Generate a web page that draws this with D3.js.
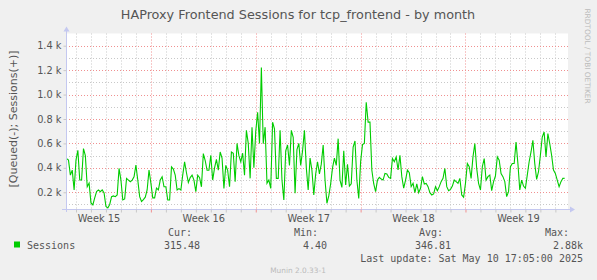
<!DOCTYPE html>
<html lang="en">
<head>
<meta charset="UTF-8">
<title>HAProxy Frontend Sessions</title>
<script src="https://cdn.jsdelivr.net/npm/d3@7"></script>
<style>
  body { margin: 0; background: #f0f0f0; }
  svg { display: block; }
  .sans { font-family: "DejaVu Sans", sans-serif; fill: #555; }
  .mono { font-family: "DejaVu Sans Mono", monospace; fill: #555; }
</style>
</head>
<body>
<script>
// ---- data: Sessions, one sample every 3 hours from Apr 7 09:00 to May 10 15:00 ----
const startTime = Date.UTC(2025, 3, 7, 9, 0);
const stepHours = 3;
const sessions = [
  476, 463, 340, 381, 219, 463, 544, 300, 300, 558,
  500, 245, 275, 113, 97, 154, 205, 219, 205, 219,
  194, 83, 72, 100, 164, 170, 164, 178, 395, 300,
  137, 145, 314, 300, 286, 300, 327, 422, 300, 164,
  124, 140, 160, 219, 381, 275, 154, 154, 235, 220,
  300, 327, 245, 245, 137, 137, 408, 390, 340, 219,
  230, 219, 340, 449, 360, 280, 320, 340, 300, 205,
  340, 320, 245, 517, 460, 380,
  381, 503, 300, 400, 470, 381, 530, 480, 232, 420,
  380, 245, 530, 520, 286, 600, 500, 450, 520, 340,
  707, 600, 314, 733, 400, 700, 855, 600, 1221, 598,
  733, 273, 300, 232, 774, 720, 314, 314, 707, 300,
  137, 540, 587, 420, 707, 650, 192, 550, 600, 420,
  540, 707, 400, 219, 480, 380, 178, 350, 450, 350,
  430, 587, 300, 110, 170, 270, 400, 480, 420, 639,
  300, 240, 540, 260, 430, 250, 270, 570, 620, 300,
  150, 450, 590, 600, 937, 774, 774, 380, 270, 205,
  300,
  322, 308, 300, 354, 349, 322, 314, 476, 450, 490,
  382, 503, 328, 233, 300, 382, 360, 246, 273, 197,
  268, 197, 233, 328, 268, 273, 246, 197, 178, 186,
  246, 213, 246, 287, 314, 395, 246, 213, 224, 251,
  300, 287, 273, 314, 178, 159, 273, 436, 409, 314,
  490, 598, 395, 273, 219, 409, 476, 300, 328, 341,
  213, 287, 333, 490, 463, 354, 328, 287, 164, 205,
  409, 436, 436, 612, 436, 219, 300, 251, 233, 341,
  450, 530, 625, 436, 306, 368, 503, 652, 693, 490,
  680, 598, 503, 382, 354, 300, 246, 287, 314, 315
];

const yTicks = [200, 400, 600, 800, 1000, 1200, 1400];
const yMinor = [100, 300, 500, 700, 900, 1100, 1300];
const weekLabels = ["Week 15", "Week 16", "Week 17", "Week 18", "Week 19"];

const legendHeads = ["Cur:", "Min:", "Avg:", "Max:"];
const legendVals = ["315.48", "4.40", "346.81", "2.88k"];
const lastUpdate = "Last update: Sat May 10 17:05:00 2025";

// ---- layout ----
const W = 597, H = 280;
const plot = { left: 66, right: 568, top: 33.5, bottom: 209 };

const svg = d3.select("body").append("svg")
  .attr("width", W).attr("height", H);

svg.append("rect").attr("width", W).attr("height", H).attr("fill", "#f0f0f0");
svg.append("rect")
  .attr("x", plot.left).attr("y", plot.top)
  .attr("width", plot.right - plot.left).attr("height", plot.bottom - plot.top)
  .attr("fill", "#ffffff");

// scales
const x = d3.scaleUtc()
  .domain([new Date(Date.UTC(2025, 3, 7, 8, 0)), new Date(Date.UTC(2025, 4, 10, 20, 15))])
  .range([plot.left, plot.right]);
const y = d3.scaleLinear().domain([63, 1500]).range([plot.bottom, plot.top]);

const t0 = x.domain()[0], t1 = x.domain()[1];
const days = d3.utcDay.range(d3.utcDay.ceil(t0), t1);
const weeks = d3.utcSunday.range(d3.utcSunday.ceil(t0), t1);

// grid
const grid = svg.append("g");
grid.selectAll(".vmin").data(days.filter(d => d.getUTCDay() !== 0)).enter().append("line")
  .attr("x1", d => Math.round(x(d)) + 0.5).attr("x2", d => Math.round(x(d)) + 0.5)
  .attr("y1", plot.top).attr("y2", plot.bottom)
  .attr("stroke", "#c8c8c8").attr("stroke-dasharray", "1,2");
grid.selectAll(".hmin").data(yMinor).enter().append("line")
  .attr("x1", plot.left).attr("x2", plot.right)
  .attr("y1", d => Math.round(y(d)) + 0.5).attr("y2", d => Math.round(y(d)) + 0.5)
  .attr("stroke", "#c8c8c8").attr("stroke-dasharray", "1,2");
grid.selectAll(".vmaj").data(weeks).enter().append("line")
  .attr("x1", d => Math.round(x(d)) + 0.5).attr("x2", d => Math.round(x(d)) + 0.5)
  .attr("y1", plot.top).attr("y2", plot.bottom)
  .attr("stroke", "#f09090").attr("stroke-dasharray", "1,2");
grid.selectAll(".hmaj").data(yTicks).enter().append("line")
  .attr("x1", plot.left).attr("x2", plot.right)
  .attr("y1", d => Math.round(y(d)) + 0.5).attr("y2", d => Math.round(y(d)) + 0.5)
  .attr("stroke", "#f09090").attr("stroke-dasharray", "1,2");

// data line
const pts = sessions.map((v, i) => ({ t: new Date(startTime + i * stepHours * 3600e3), v }));
svg.append("path").datum(pts)
  .attr("fill", "none").attr("stroke", "#00cc00").attr("stroke-width", 1.1)
  .attr("d", d3.line().x(d => x(d.t)).y(d => y(d.v)));

// axes
const axisColor = "#c4c8f0";
const yAxis = svg.append("g").attr("transform", `translate(${plot.left + 0.5},0)`)
  .call(d3.axisLeft(y).tickValues(yTicks).tickSize(3).tickSizeOuter(0)
    .tickFormat(d => (d / 1000).toFixed(1) + " k"));
yAxis.select(".domain").attr("stroke", axisColor).attr("d", `M0,${plot.bottom + 3}V${plot.top - 5}`);
yAxis.selectAll(".tick line").attr("stroke", "#c8c8c8");
yAxis.selectAll(".tick text").attr("class", "sans").attr("font-size", 9.8).attr("x", -5)
  .attr("fill", "#555");

const xAxis = svg.append("g").attr("transform", `translate(0,${plot.bottom + 0.5})`)
  .call(d3.axisBottom(x).tickValues(days).tickSize(3).tickSizeOuter(0).tickFormat(""));
xAxis.select(".domain").attr("stroke", axisColor).attr("d", `M${plot.left - 4},0H${plot.right + 4}`);
xAxis.selectAll(".tick line").attr("stroke", d => d.getUTCDay() === 0 ? "#f09090" : "#c8c8c8");

// week labels centred on the middle of each week (weeks start on Sunday)
const weekMids = d3.utcSunday.range(d3.utcSunday.floor(t0), t1).map(d => new Date(+d + 3.5 * 864e5));
const xLab = svg.append("g").attr("transform", `translate(0,${plot.bottom + 0.5})`)
  .call(d3.axisBottom(x).tickValues(weekMids).tickSize(0).tickFormat((d, i) => weekLabels[i]));
xLab.select(".domain").remove();
xLab.selectAll(".tick text").attr("class", "sans").attr("font-size", 9.8).attr("dy", "0.95em")
  .attr("fill", "#555");

// arrows
svg.append("path").attr("fill", axisColor)
  .attr("d", `M${plot.left + 0.5 - 3},${plot.top - 2}L${plot.left + 0.5 + 3},${plot.top - 2}L${plot.left + 0.5},${plot.top - 7}Z`);
svg.append("path").attr("fill", axisColor)
  .attr("d", `M${plot.right + 2},${plot.bottom + 0.5 - 3}L${plot.right + 2},${plot.bottom + 0.5 + 3}L${plot.right + 7},${plot.bottom + 0.5}Z`);

// title and labels
svg.append("text").attr("class", "sans").attr("x", 298).attr("y", 18.5)
  .attr("text-anchor", "middle").attr("font-size", 12.8)
  .text("HAProxy Frontend Sessions for tcp_frontend - by month");
svg.append("text").attr("class", "sans")
  .attr("transform", "translate(17,119) rotate(-90)")
  .attr("text-anchor", "middle").attr("font-size", 11)
  .text("[Queued(-); Sessions(+)]");
svg.append("text").attr("transform", "translate(585,56) rotate(90)")
  .attr("text-anchor", "middle").attr("font-size", 7.4)
  .attr("font-family", "DejaVu Sans, sans-serif").attr("fill", "#bbb")
  .text("RRDTOOL / TOBI OETIKER");

// legend
svg.append("rect").attr("x", 14).attr("y", 241.5).attr("width", 6).attr("height", 6)
  .attr("fill", "#00cc00");
svg.append("text").attr("class", "mono").attr("x", 27).attr("y", 248.5)
  .attr("font-size", 10).text("Sessions");
const colEnds = [192, 318, 443, 569];
const valEnds = [200, 327, 451, 583];
legendHeads.forEach((h, i) => {
  svg.append("text").attr("class", "mono").attr("x", colEnds[i]).attr("y", 236)
    .attr("text-anchor", "end").attr("font-size", 10).text(h);
  svg.append("text").attr("class", "mono").attr("x", valEnds[i]).attr("y", 248.5)
    .attr("text-anchor", "end").attr("font-size", 10).text(legendVals[i]);
});
svg.append("text").attr("class", "mono").attr("x", 583).attr("y", 261.5)
  .attr("text-anchor", "end").attr("font-size", 10).text(lastUpdate);
svg.append("text").attr("x", 298).attr("y", 272.5).attr("text-anchor", "middle")
  .attr("font-size", 7.4).attr("font-family", "DejaVu Sans, sans-serif").attr("fill", "#bbb")
  .text("Munin 2.0.33-1");
</script>
</body>
</html>
